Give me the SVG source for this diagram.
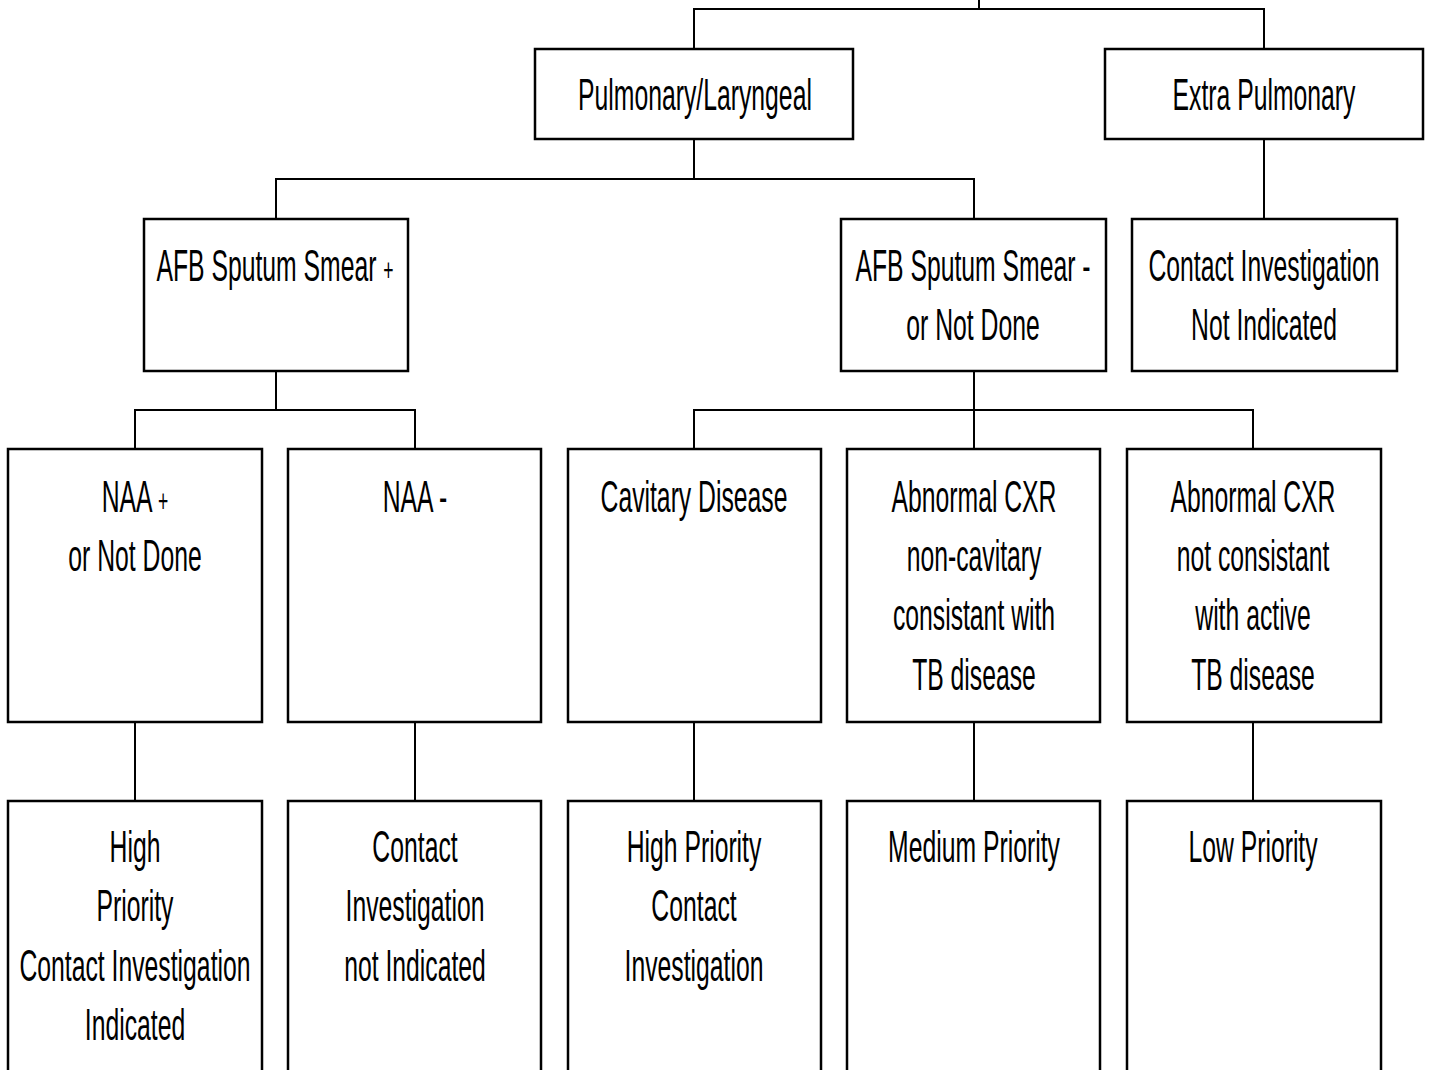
<svg xmlns="http://www.w3.org/2000/svg" width="1432" height="1070" viewBox="0 0 1432 1070">
<style>
.box{fill:#fff;stroke:#000;stroke-width:2.5}
.c{fill:none;stroke:#000;stroke-width:2}
.t{font-family:"Liberation Sans",Arial,sans-serif;font-size:45px;text-anchor:middle;fill:#000}
.p{font-size:32px}
</style>
<rect width="1432" height="1070" fill="#fff"/>
<g id="connectors">
<path class="c" d="M694 49V9H1264V49M979 0V9"/>
<path class="c" d="M694 139V179M276 219V179H974V219"/>
<path class="c" d="M1264 139V219"/>
<path class="c" d="M276 371V410M135 449V410H415V449"/>
<path class="c" d="M974 371V449M694 449V410H1253V449"/>
<path class="c" d="M135 722V801M415 722V801M694 722V801M974 722V801M1253 722V801"/>
</g>
<g id="n-pulm"><rect class="box" x="535" y="49" width="318" height="90"/>
<text class="t" transform="translate(695,110) scale(0.55,1)">Pulmonary/Laryngeal</text></g>
<g id="n-extra"><rect class="box" x="1105" y="49" width="318" height="90"/>
<text class="t" transform="translate(1264,110) scale(0.55,1)">Extra Pulmonary</text></g>
<g id="n-afbpos"><rect class="box" x="144" y="219" width="264" height="152"/>
<text class="t" transform="translate(275,281) scale(0.55,1)">AFB Sputum Smear <tspan class="p">+</tspan></text></g>
<g id="n-afbneg"><rect class="box" x="841" y="219" width="265" height="152"/>
<text class="t" transform="translate(973,281) scale(0.55,1)">AFB Sputum Smear -</text>
<text class="t" transform="translate(973,340) scale(0.55,1)">or Not Done</text></g>
<g id="n-extra-ci"><rect class="box" x="1132" y="219" width="265" height="152"/>
<text class="t" transform="translate(1264,281) scale(0.55,1)">Contact Investigation</text>
<text class="t" transform="translate(1264,340) scale(0.55,1)">Not Indicated</text></g>
<g id="n-naapos"><rect class="box" x="8" y="449" width="254" height="273"/>
<text class="t" transform="translate(135,512) scale(0.55,1)">NAA <tspan class="p">+</tspan></text>
<text class="t" transform="translate(135,571) scale(0.55,1)">or Not Done</text></g>
<g id="n-naaneg"><rect class="box" x="288" y="449" width="253" height="273"/>
<text class="t" transform="translate(415,512) scale(0.55,1)">NAA -</text></g>
<g id="n-cav"><rect class="box" x="568" y="449" width="253" height="273"/>
<text class="t" transform="translate(694,512) scale(0.55,1)">Cavitary Disease</text></g>
<g id="n-abn1"><rect class="box" x="847" y="449" width="253" height="273"/>
<text class="t" transform="translate(974,512) scale(0.55,1)">Abnormal CXR</text>
<text class="t" transform="translate(974,571) scale(0.55,1)">non-cavitary</text>
<text class="t" transform="translate(974,630) scale(0.55,1)">consistant with</text>
<text class="t" transform="translate(974,690) scale(0.55,1)">TB disease</text></g>
<g id="n-abn2"><rect class="box" x="1127" y="449" width="254" height="273"/>
<text class="t" transform="translate(1253,512) scale(0.55,1)">Abnormal CXR</text>
<text class="t" transform="translate(1253,571) scale(0.55,1)">not consistant</text>
<text class="t" transform="translate(1253,630) scale(0.55,1)">with active</text>
<text class="t" transform="translate(1253,690) scale(0.55,1)">TB disease</text></g>
<g id="n-high1"><rect class="box" x="8" y="801" width="254" height="290"/>
<text class="t" transform="translate(135,862) scale(0.55,1)">High</text>
<text class="t" transform="translate(135,921) scale(0.55,1)">Priority</text>
<text class="t" transform="translate(135,981) scale(0.55,1)">Contact Investigation</text>
<text class="t" transform="translate(135,1040) scale(0.55,1)">Indicated</text></g>
<g id="n-ni"><rect class="box" x="288" y="801" width="253" height="290"/>
<text class="t" transform="translate(415,862) scale(0.55,1)">Contact</text>
<text class="t" transform="translate(415,921) scale(0.55,1)">Investigation</text>
<text class="t" transform="translate(415,981) scale(0.55,1)">not Indicated</text></g>
<g id="n-high2"><rect class="box" x="568" y="801" width="253" height="290"/>
<text class="t" transform="translate(694,862) scale(0.55,1)">High Priority</text>
<text class="t" transform="translate(694,921) scale(0.55,1)">Contact</text>
<text class="t" transform="translate(694,981) scale(0.55,1)">Investigation</text></g>
<g id="n-med"><rect class="box" x="847" y="801" width="253" height="290"/>
<text class="t" transform="translate(974,862) scale(0.55,1)">Medium Priority</text></g>
<g id="n-low"><rect class="box" x="1127" y="801" width="254" height="290"/>
<text class="t" transform="translate(1253,862) scale(0.55,1)">Low Priority</text></g>
</svg>
